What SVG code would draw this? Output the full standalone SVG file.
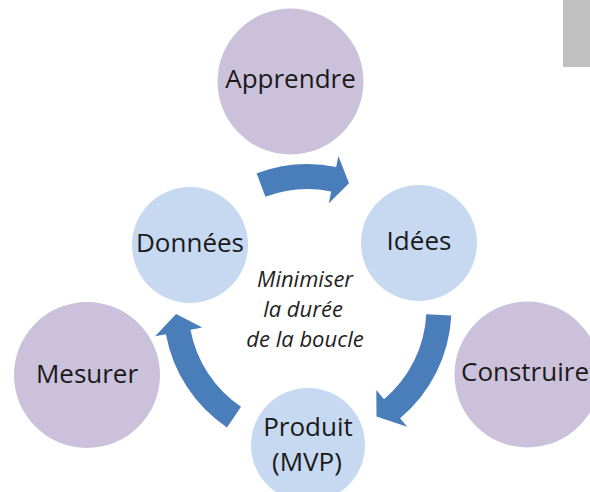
<svg xmlns="http://www.w3.org/2000/svg" width="590" height="492" viewBox="0 0 590 492">
<style>
.purple{fill:#CCC1DA}
.blue{fill:#C6D9F1}
.lbl{font-family:"Open Sans","Noto Sans",sans-serif;font-size:26px;fill:#1a1a1a;text-anchor:middle}
.mid{font-family:"Open Sans","Noto Sans",sans-serif;font-size:22px;font-style:italic;fill:#1f1f1f;text-anchor:middle}
.arrow{fill:#4A7EBB}
</style>
<rect width="590" height="492" fill="#ffffff"/>
<rect x="563" y="0" width="27" height="67" fill="#C0C0C0"/>
<g id="apprendre"><circle class="purple" cx="290.5" cy="81.5" r="73"/><text class="lbl" x="290.5" y="88">Apprendre</text></g>
<g id="mesurer"><circle class="purple" cx="87" cy="375" r="73"/><text class="lbl" x="87" y="383">Mesurer</text></g>
<g id="construire"><circle class="purple" cx="527.5" cy="374.5" r="73"/><text class="lbl" x="525" y="381">Construire</text></g>
<g id="donnees"><circle class="blue" cx="190" cy="245" r="58"/><text class="lbl" x="190" y="252">Données</text></g>
<g id="idees"><circle class="blue" cx="419" cy="243" r="58"/><text class="lbl" x="419" y="250">Idées</text></g>
<g id="produit"><circle class="blue" cx="308" cy="445" r="57"/><text class="lbl" x="308" y="436">Produit</text><text class="lbl" x="307" y="471">(MVP)</text></g>
<g id="centre"><text class="mid" x="305" y="287">Minimiser</text><text class="mid" x="303" y="317">la durée</text><text class="mid" x="305" y="347">de la boucle</text></g>
<g id="connectors">
<path class="arrow" d="M256.6,173.3 A144,144 0 0 1 336.2,166.9 L338.4,156.1 L349.0,183.2 L328.8,203.2 L331.2,191.4 A119,119 0 0 0 265.4,196.7 Z"/>
<path class="arrow" d="M451.3,315.5 A144,144 0 0 1 400.1,418.3 L407.1,426.7 L376.5,416.5 L376.3,390.0 L384.0,399.2 A119,119 0 0 0 426.3,314.2 Z"/>
<path class="arrow" d="M227.0,427.4 A144,144 0 0 1 165.9,334.2 L155.1,336.2 L176.1,314.0 L202.3,327.5 L190.5,329.7 A119,119 0 0 0 241.0,406.7 Z"/>
</g>
</svg>
